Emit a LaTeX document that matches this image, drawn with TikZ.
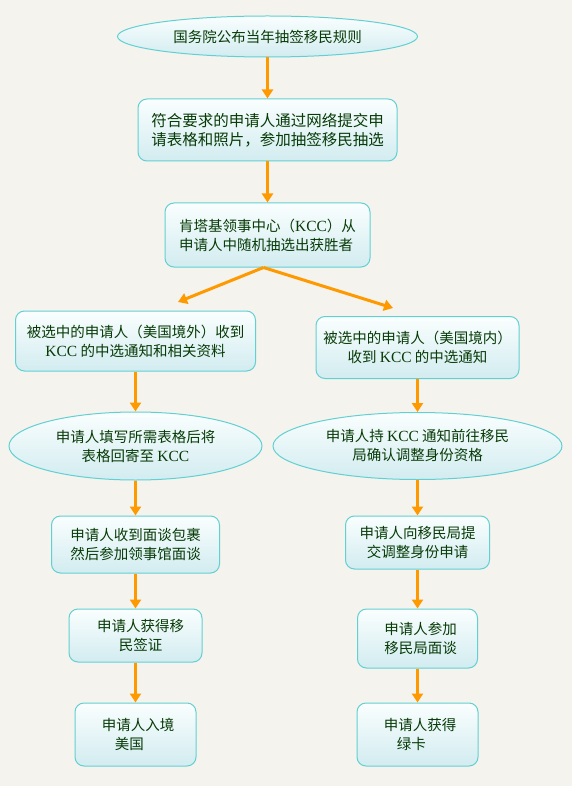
\documentclass[tikz,border=0pt]{standalone}
\usepackage{fontspec}
\setmainfont{Noto Sans CJK SC}
\newfontfamily\kccfont{Liberation Serif}
\usetikzlibrary{arrows.meta,shapes.geometric}
\definecolor{bgc}{HTML}{F4F3EE}
\definecolor{bordc}{HTML}{62D0D3}
\definecolor{topc}{HTML}{FAFEFE}
\definecolor{botc}{HTML}{D2ECF0}
\definecolor{txtc}{HTML}{073B07}
\definecolor{arrc}{HTML}{FF9900}
\newcommand\kcc{{\kccfont\fontsize{15.5}{19}\selectfont KCC}}
\begin{document}
\begin{tikzpicture}[x=1pt,y=-1pt,
  base/.style={draw=bordc,line width=1pt,top color=topc,bottom color=botc,
    text=txtc,font=\fontsize{14.5}{19}\selectfont,inner sep=0pt,align=center},
  rbox/.style={base,rectangle,rounded corners=9pt},
  oval/.style={base,ellipse},
  flow/.style={draw=arrc,line width=3pt,-{Triangle[width=11pt,length=9pt]}}
]
\fill[bgc] (0,0) rectangle (572,786);
\useasboundingbox (0,0) rectangle (572,786);

\node[oval,minimum width=300pt,minimum height=41pt] (n1) at (267.5,36.5)
  {国务院公布当年抽签移民规则};
\node[rbox,minimum width=259pt,minimum height=62pt,align=left,
  font=\fontsize{15.5}{19}\selectfont] (n2) at (267.5,130)
  {符合要求的申请人通过网络提交申\\请表格和照片，参加抽签移民抽选};
\node[rbox,minimum width=205pt,minimum height=64pt,align=left] (n3) at (267.5,235)
  {肯塔基领事中心（\kcc）从\\申请人中随机抽选出获胜者};

\coordinate (tl) at (178,302);
\coordinate (tr) at (393,308);

\node[rbox,minimum width=240pt,minimum height=60pt] (n4l) at (135.5,341)
  {被选中的申请人（美国境外）收到\\\kcc{} 的中选通知和相关资料};
\node[rbox,minimum width=203pt,minimum height=62pt] (n4r) at (417.5,347.5)
  {被选中的申请人（美国境内）\\收到 \kcc{} 的中选通知};

\node[oval,minimum width=253pt,minimum height=68pt] (n5l) at (135.5,446)
  {申请人填写所需表格后将\\表格回寄至 \kcc};
\node[oval,minimum width=289pt,minimum height=67pt] (n5r) at (417.5,446)
  {申请人持 \kcc{} 通知前往移民\\局确认调整身份资格};

\node[rbox,minimum width=168pt,minimum height=57pt] (n6l) at (135.5,544.5)
  {申请人收到面谈包裹\\然后参加领事馆面谈};
\node[rbox,minimum width=144pt,minimum height=53pt] (n6r) at (417.5,542.5)
  {申请人向移民局提\\交调整身份申请};

\node[rbox,minimum width=133pt,minimum height=53pt] (n7l) at (135.5,635.5)
  {\hspace*{10pt}申请人获得移\\\hspace*{10pt}民签证};
\node[rbox,minimum width=120pt,minimum height=59pt] (n7r) at (417.5,638.5)
  {\hspace*{6pt}申请人参加\\\hspace*{6pt}移民局面谈};

\node[rbox,minimum width=121pt,minimum height=63pt,align=left] (n8l) at (135.5,734.5)
  {\hspace*{5pt}申请人入境\\\hspace*{18pt}美国};
\node[rbox,minimum width=121pt,minimum height=63pt,align=left] (n8r) at (417.5,734.5)
  {\hspace*{5pt}申请人获得\\\hspace*{18pt}绿卡};

\draw[flow] (n1) -- (n2);
\draw[flow] (n2) -- (n3);
\draw[flow] ([xshift=-4pt]n3.south) -- (tl);
\draw[flow] ([xshift=-4pt]n3.south) -- (tr);
\draw[flow] (n4l) -- (n5l);
\draw[flow] (n5l) -- (n6l);
\draw[flow] (n6l) -- (n7l);
\draw[flow] (n7l) -- (n8l);
\draw[flow] (n4r) -- (n5r);
\draw[flow] (n5r) -- (n6r);
\draw[flow] (n6r) -- (n7r);
\draw[flow] (n7r) -- (n8r);
\end{tikzpicture}
\end{document}
